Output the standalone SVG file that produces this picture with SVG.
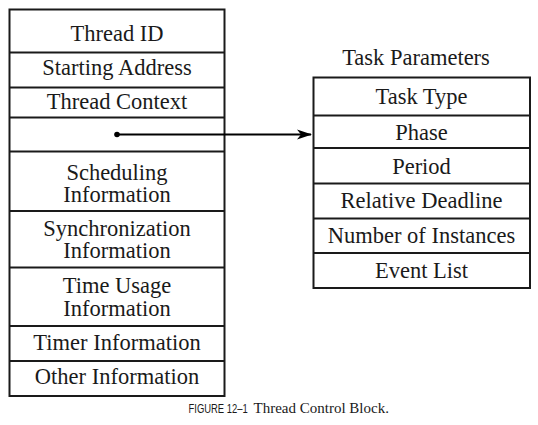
<svg xmlns="http://www.w3.org/2000/svg" width="538" height="425" viewBox="0 0 538 425">
<style>
  .box { fill: #fff; stroke: #1a1a1a; stroke-width: 2; }
  .div { stroke: #1a1a1a; stroke-width: 2; }
  .t { font-family: "Liberation Serif", "Times New Roman", serif; font-size: 22.5px; fill: #1a1a1a; text-anchor: middle; }
  .cap { font-family: "Liberation Serif", "Times New Roman", serif; font-size: 15px; fill: #1a1a1a; }
  .fig { font-family: "Liberation Sans", Arial, sans-serif; font-size: 13.5px; fill: #1a1a1a; }
  .conn { stroke: #000; stroke-width: 2; fill: none; }
</style>
<defs>
  <marker id="arrow" markerWidth="16" markerHeight="12" refX="14" refY="6" orient="auto" markerUnits="userSpaceOnUse">
    <path d="M0,1 L15,6 L0,11 L4,6 Z" fill="#000"/>
  </marker>
</defs>
<rect width="538" height="425" fill="#fff"/>

<g id="thread-control-block">
  <rect class="box" x="9.5" y="9.5" width="215" height="386.5"/>
  <g id="tcb-thread-id"><text class="t" x="117" y="41">Thread ID</text></g>
  <line class="div" x1="9.5" y1="52.5" x2="224.5" y2="52.5"/>
  <g id="tcb-starting-address"><text class="t" x="117" y="74.5">Starting Address</text></g>
  <line class="div" x1="9.5" y1="87.5" x2="224.5" y2="87.5"/>
  <g id="tcb-thread-context"><text class="t" x="117" y="109">Thread Context</text></g>
  <line class="div" x1="9.5" y1="117.5" x2="224.5" y2="117.5"/>
  <g id="tcb-task-pointer"></g>
  <line class="div" x1="9.5" y1="151.5" x2="224.5" y2="151.5"/>
  <g id="tcb-scheduling"><text class="t" x="117" y="180">Scheduling</text><text class="t" x="117" y="202">Information</text></g>
  <line class="div" x1="9.5" y1="211" x2="224.5" y2="211"/>
  <g id="tcb-synchronization"><text class="t" x="117" y="235.5">Synchronization</text><text class="t" x="117" y="258">Information</text></g>
  <line class="div" x1="9.5" y1="267.5" x2="224.5" y2="267.5"/>
  <g id="tcb-time-usage"><text class="t" x="117" y="293">Time Usage</text><text class="t" x="117" y="316">Information</text></g>
  <line class="div" x1="9.5" y1="326" x2="224.5" y2="326"/>
  <g id="tcb-timer"><text class="t" x="117" y="349.5">Timer Information</text></g>
  <line class="div" x1="9.5" y1="361" x2="224.5" y2="361"/>
  <g id="tcb-other"><text class="t" x="117" y="384">Other Information</text></g>
</g>

<g id="task-parameters">
  <text class="t" x="416" y="65">Task Parameters</text>
  <rect class="box" x="313.5" y="77.5" width="216.5" height="210.5"/>
  <g id="tp-task-type"><text class="t" x="421.5" y="104">Task Type</text></g>
  <line class="div" x1="313.5" y1="115.5" x2="530" y2="115.5"/>
  <g id="tp-phase"><text class="t" x="421.5" y="139.5">Phase</text></g>
  <line class="div" x1="313.5" y1="148" x2="530" y2="148"/>
  <g id="tp-period"><text class="t" x="421.5" y="173.5">Period</text></g>
  <line class="div" x1="313.5" y1="183.5" x2="530" y2="183.5"/>
  <g id="tp-relative-deadline"><text class="t" x="421.5" y="207.5">Relative Deadline</text></g>
  <line class="div" x1="313.5" y1="218.5" x2="530" y2="218.5"/>
  <g id="tp-instances"><text class="t" x="421.5" y="242.5">Number of Instances</text></g>
  <line class="div" x1="313.5" y1="253" x2="530" y2="253"/>
  <g id="tp-event-list"><text class="t" x="421.5" y="277.5">Event List</text></g>
</g>

<g id="connectors">
  <circle cx="117" cy="134.5" r="2.8" fill="#000"/>
  <line class="conn" x1="117" y1="134.5" x2="311" y2="134.5" marker-end="url(#arrow)"/>
</g>

<g id="caption">
  <text class="fig" transform="translate(188.5,413) scale(0.7,1)">FIGURE 12–1</text>
  <text class="cap" x="253.5" y="413">Thread Control Block.</text>
</g>
</svg>
